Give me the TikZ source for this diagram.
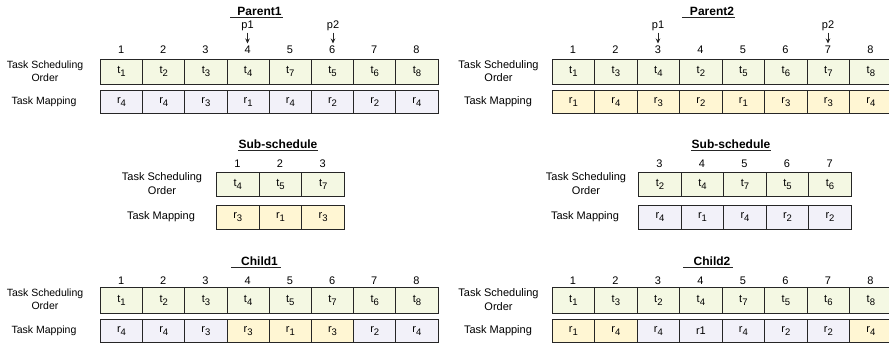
\documentclass[tikz,border=0pt]{standalone}
\usepackage{fontspec}
\setmainfont{Liberation Sans}
\usetikzlibrary{arrows.meta}

\definecolor{tsofill}{HTML}{F4F8E3}
\definecolor{mapfill}{HTML}{F2F1F9}
\definecolor{subfill}{HTML}{FFF6D3}
\definecolor{edge}{HTML}{262626}

% lowered index, nearly full size
\newcommand\gsub[1]{\raisebox{-2.6pt}{\fontsize{9.5}{10}\selectfont #1}}

% one row of gene cells: #1 name prefix, #2 left x, #3 top y, #4 cell width,
% #5 cell height, #6 list of text/fill pairs
\newcommand\generow[6]{%
  \foreach \v/\f [count=\i] in {#6} {
    \node[cellbox, fill=\f, minimum width=#4pt, minimum height=#5pt]
      (#1\i) at ({#2+(\i-1)*#4},#3) {\v};
  }}
% column numbers above a row: #1 name prefix, #2 left x, #3 centre y, #4 width, #5 list
\newcommand\colnums[5]{%
  \foreach \n [count=\i] in {#5} {
    \node[numtxt] (#1\i) at ({#2+(\i-0.5)*#4},#3) {\n};
  }}

\tikzset{
  x=1pt, y=-1pt,
  cellbox/.style={draw=edge, line width=0.9pt, anchor=north west, inner sep=0pt,
    font=\fontsize{11}{12}\selectfont},
  numtxt/.style={inner sep=0pt, font=\fontsize{11}{12}\selectfont},
  rowlabel/.style={inner sep=0pt, align=center, font=\fontsize{10.5}{13.3}\selectfont},
  rowlabelR/.style={inner sep=0pt, align=center, font=\fontsize{11}{13.5}\selectfont},
  titletxt/.style={inner sep=0pt, font=\fontsize{12}{13}\selectfont\bfseries},
  uline/.style={draw=edge, line width=0.8pt},
  cutpt/.style={inner sep=0pt, font=\fontsize{11}{12}\selectfont},
  cutarrow/.style={-{Stealth[length=5pt,width=4.5pt]}, line width=0.8pt, draw=edge},
}

\begin{document}
\begin{tikzpicture}
\useasboundingbox (0,0) rectangle (889,348);

% ---------------- Parent1 ----------------
\node[titletxt] (P1title) at (259.5,11.5) {Parent1};
\draw[uline] ([xshift=-7pt,yshift=-2pt]P1title.base west) -- ([xshift=1pt,yshift=-2pt]P1title.base east);
\colnums{P1n}{100}{50}{42.2}{1,2,3,4,5,6,7,8}
\generow{P1t}{100}{58.5}{42.2}{25}{t\gsub{1}/tsofill,t\gsub{2}/tsofill,t\gsub{3}/tsofill,t\gsub{4}/tsofill,t\gsub{7}/tsofill,t\gsub{5}/tsofill,t\gsub{6}/tsofill,t\gsub{8}/tsofill}
\generow{P1r}{100}{90}{42.2}{23}{r\gsub{4}/mapfill,r\gsub{4}/mapfill,r\gsub{3}/mapfill,r\gsub{1}/mapfill,r\gsub{4}/mapfill,r\gsub{2}/mapfill,r\gsub{2}/mapfill,r\gsub{4}/mapfill}
\node[rowlabel] (P1lt) at (45,71) {Task Scheduling\\Order};
\node[rowlabel] (P1lm) at (44,101.5) {Task Mapping};
\node[cutpt] (P1p1) at (247.5,26) {p1};
\coordinate (P1a1) at (247.5,43.5);
\draw[cutarrow] (P1p1.south) ++(0,1.5) -- (P1a1);
\node[cutpt] (P1p2) at (333,26) {p2};
\coordinate (P1a2) at (333,43.5);
\draw[cutarrow] (P1p2.south) ++(0,1.5) -- (P1a2);

% ---------------- Parent2 ----------------
\node[titletxt] (P2title) at (712,11.5) {Parent2};
\draw[uline] ([xshift=-8pt,yshift=-2pt]P2title.base west) -- ([xshift=1pt,yshift=-2pt]P2title.base east);
\colnums{P2n}{551.7}{50}{42.5}{1,2,3,4,5,6,7,8}
\generow{P2t}{551.7}{58.5}{42.5}{25}{t\gsub{1}/tsofill,t\gsub{3}/tsofill,t\gsub{4}/tsofill,t\gsub{2}/tsofill,t\gsub{5}/tsofill,t\gsub{6}/tsofill,t\gsub{7}/tsofill,t\gsub{8}/tsofill}
\generow{P2r}{551.7}{90}{42.5}{23}{r\gsub{1}/subfill,r\gsub{4}/subfill,r\gsub{3}/subfill,r\gsub{2}/subfill,r\gsub{1}/subfill,r\gsub{3}/subfill,r\gsub{3}/subfill,r\gsub{4}/subfill}
\node[rowlabelR] (P2lt) at (498.5,71) {Task Scheduling\\Order};
\node[rowlabelR] (P2lm) at (498,101.5) {Task Mapping};
\node[cutpt] (P2p1) at (658,26) {p1};
\coordinate (P2a1) at (658,43.5);
\draw[cutarrow] (P2p1.south) ++(0,1.5) -- (P2a1);
\node[cutpt] (P2p2) at (828,26) {p2};
\coordinate (P2a2) at (828,43.5);
\draw[cutarrow] (P2p2.south) ++(0,1.5) -- (P2a2);

% ---------------- Sub-schedule of Parent1 ----------------
\node[titletxt] (S1title) at (278,144.5) {Sub-schedule};
\draw[uline] ([yshift=-2pt]S1title.base west) -- ([yshift=-2pt]S1title.base east);
\colnums{S1n}{216}{163.5}{42.7}{1,2,3}
\generow{S1t}{216}{171.5}{42.7}{24.5}{t\gsub{4}/tsofill,t\gsub{5}/tsofill,t\gsub{7}/tsofill}
\generow{S1r}{216}{205}{42.7}{23.5}{r\gsub{3}/subfill,r\gsub{1}/subfill,r\gsub{3}/subfill}
\node[rowlabelR] (S1lt) at (162,183.5) {Task Scheduling\\Order};
\node[rowlabelR] (S1lm) at (161,216.5) {Task Mapping};

% ---------------- Sub-schedule of Parent2 ----------------
\node[titletxt] (S2title) at (731,144.5) {Sub-schedule};
\draw[uline] ([yshift=-2pt]S2title.base west) -- ([yshift=-2pt]S2title.base east);
\colnums{S2n}{638.3}{163.5}{42.5}{3,4,5,6,7}
\generow{S2t}{638.3}{171.5}{42.5}{24.5}{t\gsub{2}/tsofill,t\gsub{4}/tsofill,t\gsub{7}/tsofill,t\gsub{5}/tsofill,t\gsub{6}/tsofill}
\generow{S2r}{638.3}{205}{42.5}{23.5}{r\gsub{4}/mapfill,r\gsub{1}/mapfill,r\gsub{4}/mapfill,r\gsub{2}/mapfill,r\gsub{2}/mapfill}
\node[rowlabelR] (S2lt) at (586,183.5) {Task Scheduling\\Order};
\node[rowlabelR] (S2lm) at (585,216.5) {Task Mapping};

% ---------------- Child1 ----------------
\node[titletxt] (C1title) at (259.5,261.5) {Child1};
\draw[uline] ([xshift=-10pt,yshift=-2pt]C1title.base west) -- ([xshift=3pt,yshift=-2pt]C1title.base east);
\colnums{C1n}{100}{280.5}{42.2}{1,2,3,4,5,6,7,8}
\generow{C1t}{100}{287}{42.2}{25.5}{t\gsub{1}/tsofill,t\gsub{2}/tsofill,t\gsub{3}/tsofill,t\gsub{4}/tsofill,t\gsub{5}/tsofill,t\gsub{7}/tsofill,t\gsub{6}/tsofill,t\gsub{8}/tsofill}
\generow{C1r}{100}{319}{42.2}{23}{r\gsub{4}/mapfill,r\gsub{4}/mapfill,r\gsub{3}/mapfill,r\gsub{3}/subfill,r\gsub{1}/subfill,r\gsub{3}/subfill,r\gsub{2}/mapfill,r\gsub{4}/mapfill}
\node[rowlabel] (C1lt) at (45,299.5) {Task Scheduling\\Order};
\node[rowlabel] (C1lm) at (44,330.5) {Task Mapping};

% ---------------- Child2 ----------------
\node[titletxt] (C2title) at (712,261.5) {Child2};
\draw[uline] ([xshift=-10pt,yshift=-2pt]C2title.base west) -- ([xshift=2pt,yshift=-2pt]C2title.base east);
\colnums{C2n}{551.7}{280.5}{42.5}{1,2,3,4,5,6,7,8}
\generow{C2t}{551.7}{287}{42.5}{25.5}{t\gsub{1}/tsofill,t\gsub{3}/tsofill,t\gsub{2}/tsofill,t\gsub{4}/tsofill,t\gsub{7}/tsofill,t\gsub{5}/tsofill,t\gsub{6}/tsofill,t\gsub{8}/tsofill}
\generow{C2r}{551.7}{319}{42.5}{23}{r\gsub{1}/subfill,r\gsub{4}/subfill,r\gsub{4}/mapfill,r1/mapfill,r\gsub{4}/mapfill,r\gsub{2}/mapfill,r\gsub{2}/mapfill,r\gsub{4}/subfill}
\node[rowlabelR] (C2lt) at (498.5,299.5) {Task Scheduling\\Order};
\node[rowlabelR] (C2lm) at (498,330.5) {Task Mapping};
\end{tikzpicture}
\end{document}
